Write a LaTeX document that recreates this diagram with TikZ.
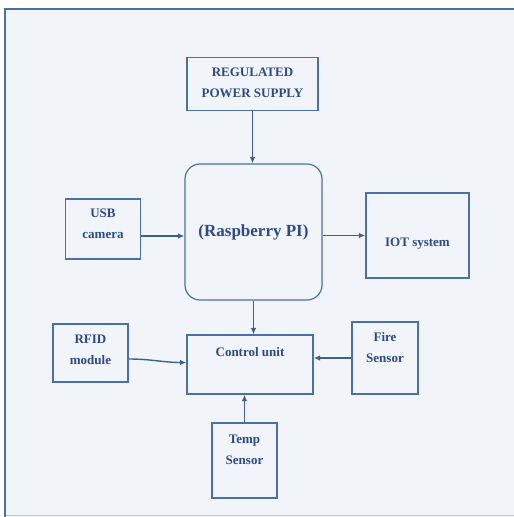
\documentclass[tikz,border=0pt]{standalone}
\usepackage{fontspec}
\setmainfont{Liberation Serif}
\usetikzlibrary{arrows.meta}
\definecolor{panel}{HTML}{F1F5F9}
\definecolor{edge}{HTML}{4A70AA}
\definecolor{ink}{HTML}{2C4A88}
\begin{document}
\begin{tikzpicture}[x=1pt,y=-1pt,
  blk/.style={draw=edge, line width=1.2pt, inner sep=0pt},
  txt/.style={text=ink, font=\fontsize{13}{21}\selectfont\bfseries, align=center, inner sep=0pt},
  link/.style={draw=edge!85!black, line width=1.4pt, -{Latex[length=6.5pt,width=5.5pt]}}]
\useasboundingbox (0,0) rectangle (514,517);
% frame
\fill[white] (0,0) rectangle (514,517);
\fill[panel] (5,9) rectangle (514,517);
\draw[edge!40, line width=1pt] (5,515.5) -- (514,515.5);
\draw[edge, line width=2.5pt] (5,517) -- (5,9) -- (514,9);
% blocks
\node[blk, minimum width=131pt, minimum height=53pt, label={[txt, yshift=1pt]center:REGULATED\\POWER SUPPLY}] (pwr) at (252.5,84) {};
\node[blk, rounded corners=15pt, minimum width=137pt, minimum height=136pt, label={[txt, font=\fontsize{17}{20}\selectfont\bfseries]center:(Raspberry PI)}] (pi) at (253.5,232) {};
\node[blk, minimum width=75pt, minimum height=60pt, label={[txt, yshift=5pt]center:USB\\camera}] (usb) at (103,229) {};
\node[blk, minimum width=103pt, minimum height=85pt, label={[txt, yshift=-8pt]center:IOT system}] (iot) at (417.5,235.5) {};
\node[blk, minimum width=75pt, minimum height=58pt, label={[txt, yshift=3pt]center:RFID\\module}] (rfid) at (90.5,353) {};
\node[blk, minimum width=126pt, minimum height=59pt, label={[txt, yshift=12pt]center:Control unit}] (ctrl) at (250,364.5) {};
\node[blk, minimum width=66pt, minimum height=72pt, label={[txt, yshift=10.5pt]center:Fire\\Sensor}] (fire) at (385,358) {};
\node[blk, minimum width=65pt, minimum height=75pt, label={[txt, yshift=10.5pt]center:Temp\\Sensor}] (temp) at (244.5,460.5) {};
% connectors
\draw[link] (pwr.south) -- (pwr.south |- pi.north);
\draw[link] ([yshift=-7pt]usb.east) -- ([yshift=-7pt]usb.east -| pi.west);
\draw[link] (pi.east |- iot.west) -- (iot.west);
\draw[link] (pi.south) -- (pi.south |- ctrl.north);
\draw[link] ([yshift=-6pt]rfid.east) to[out=0, in=180] ([yshift=-9.5pt]rfid.east -| ctrl.west);
\draw[link] (fire.west) -- (fire.west -| ctrl.east);
\draw[link] (temp.north) -- (temp.north |- ctrl.south);
\end{tikzpicture}
\end{document}
